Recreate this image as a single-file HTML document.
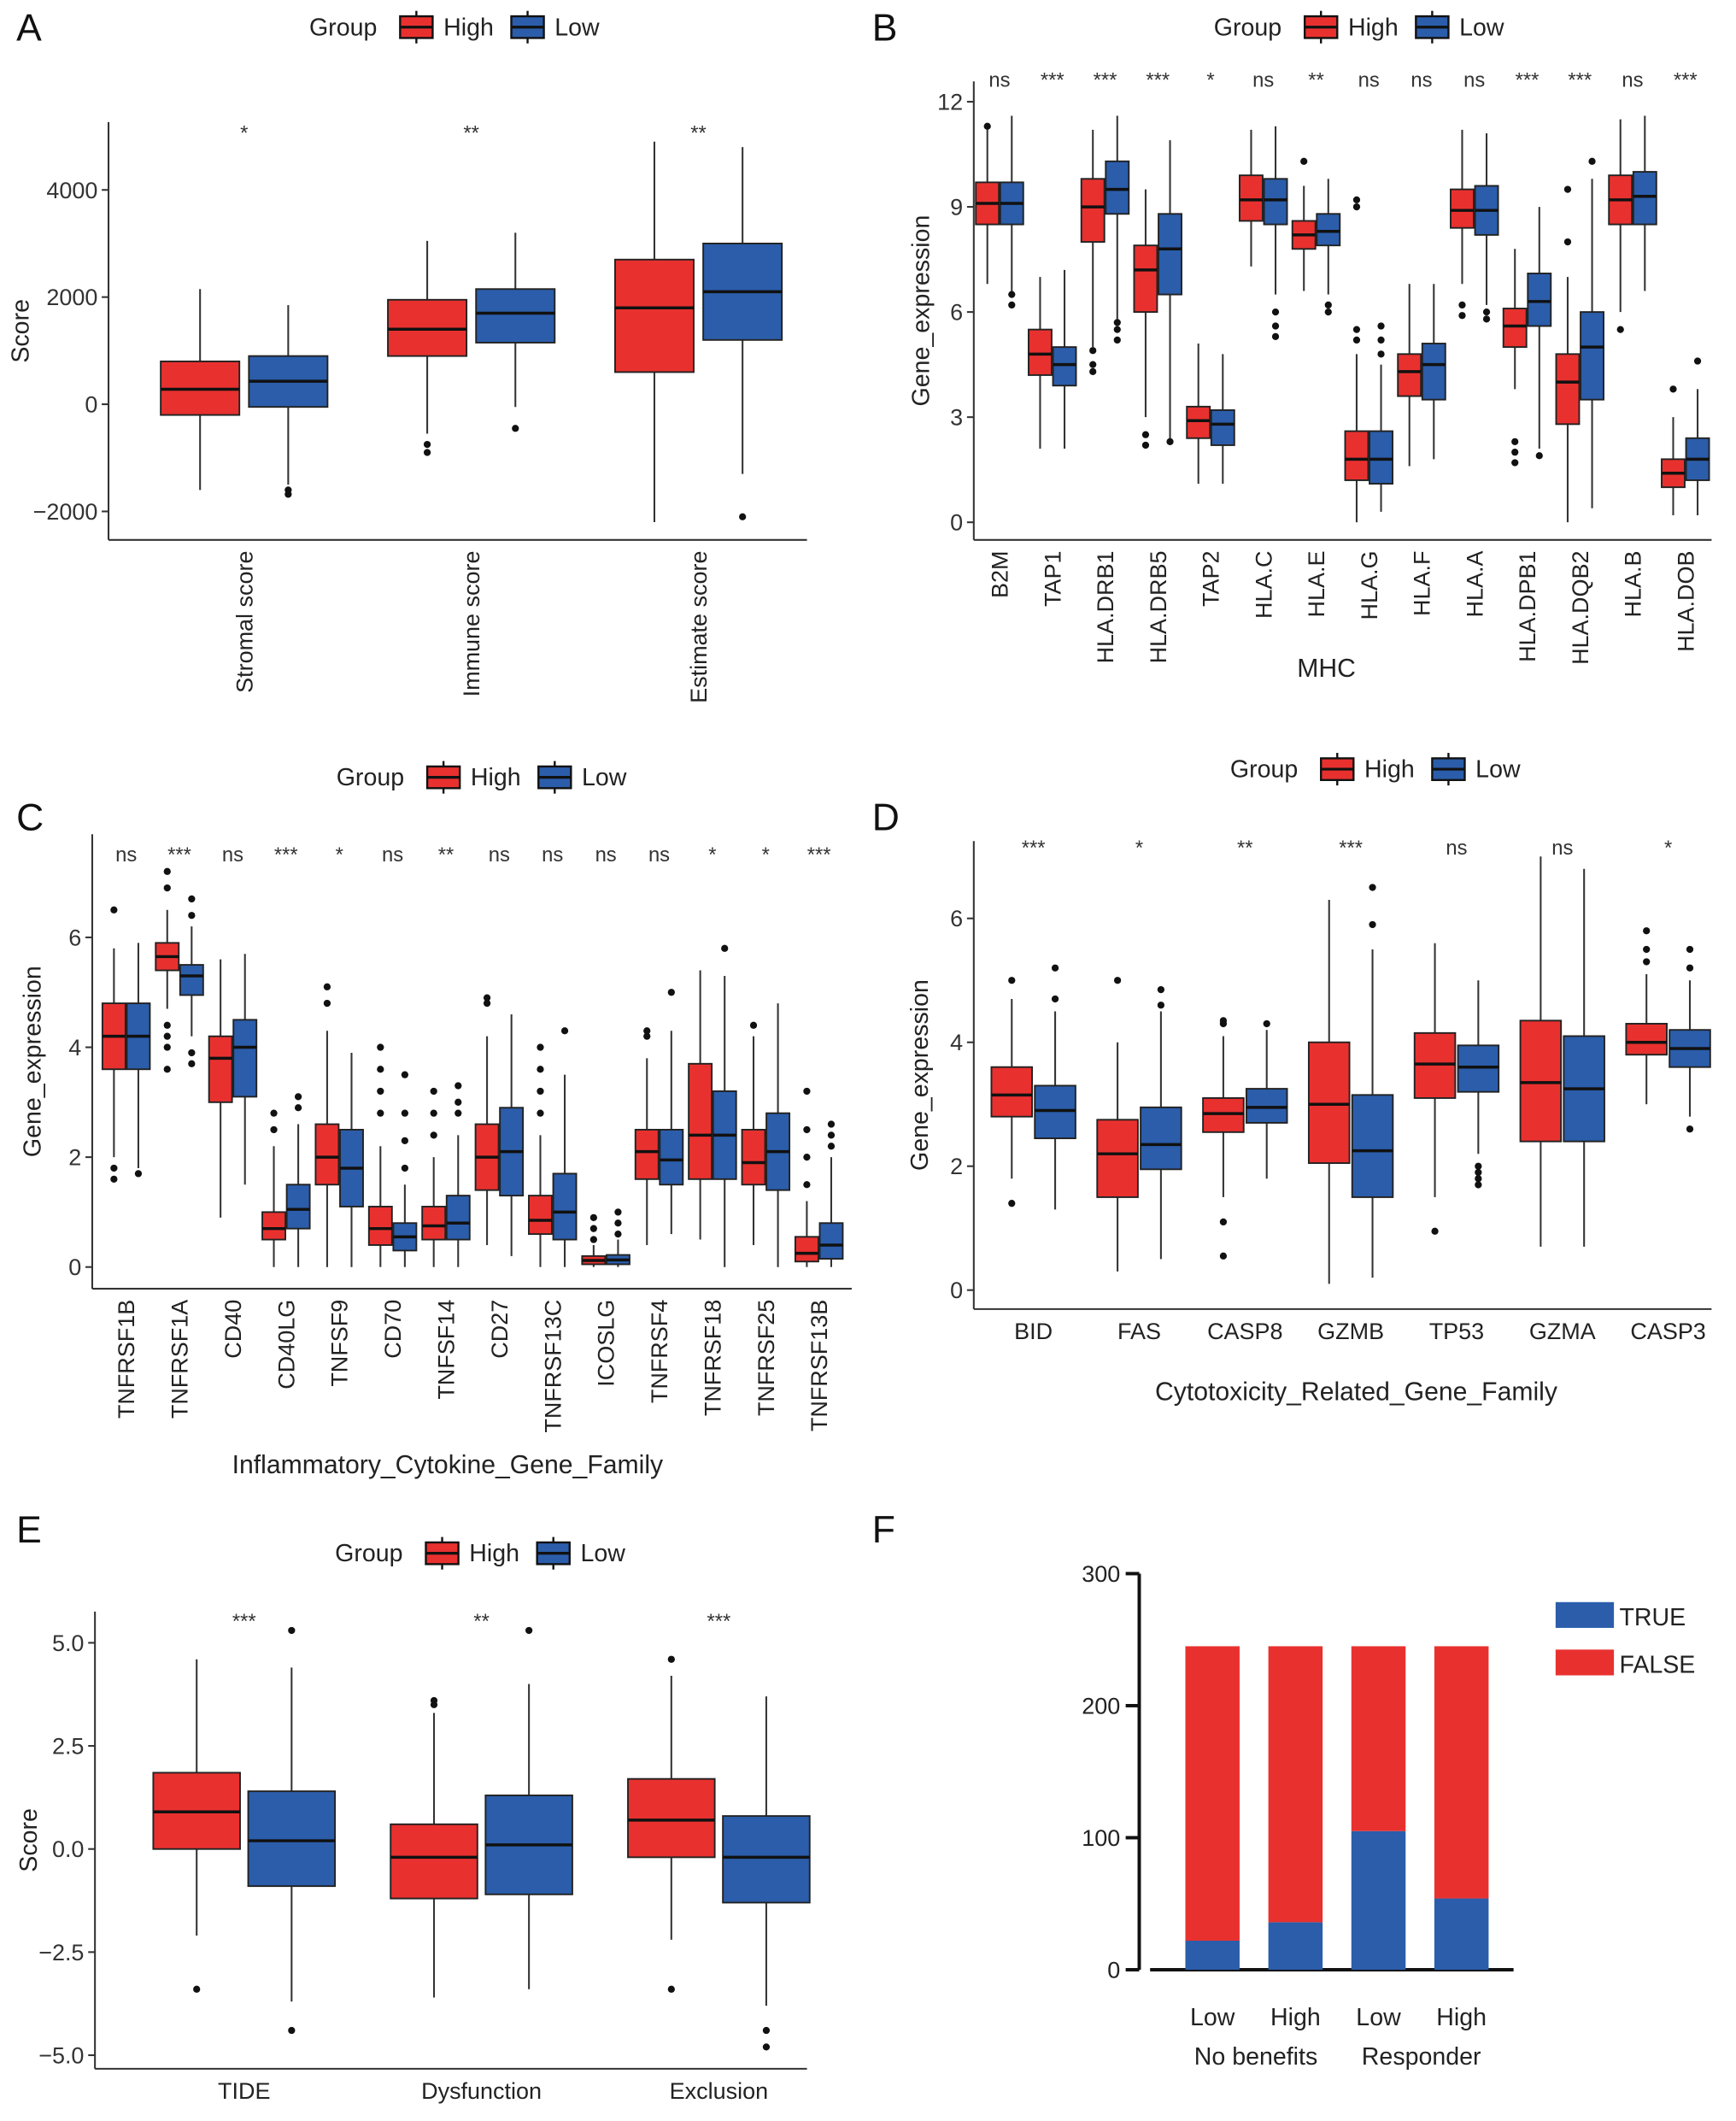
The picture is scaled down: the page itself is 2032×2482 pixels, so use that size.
<!DOCTYPE html>
<html><head><meta charset="utf-8"><style>
html,body{margin:0;padding:0;background:#fff}
svg{display:block;font-family:"Liberation Sans",Arial,sans-serif}
</style></head><body>
<svg id="fig" width="2032" height="2482" viewBox="0 0 1280 1563.5" xmlns="http://www.w3.org/2000/svg"></svg>
<script>
const RED="#E8312F",BLUE="#2B5DAA";
// Panel A
const aCats=["Stromal score","Immune score","Estimate score"];
const aSig=["*","**","**"];
const aHigh=[[-200,280,800,-1600,2150],[900,1400,1950,-550,3050],[600,1800,2700,-2200,4900]];
const aLow=[[-50,430,900,-1500,1850],[1150,1700,2150,-50,3200],[1200,2100,3000,-1300,4800]];
const aHighOut=[[],[-750,-900],[]];
const aLowOut=[[-1600,-1680],[-450],[-2100]];
const aTicks=[-2000,0,2000,4000];
const aTickLabels=["\u22122000","0","2000","4000"];
// Panel B
const bCats=["B2M","TAP1","HLA.DRB1","HLA.DRB5","TAP2","HLA.C","HLA.E","HLA.G","HLA.F","HLA.A","HLA.DPB1","HLA.DQB2","HLA.B","HLA.DOB"];
const bSig=["ns","***","***","***","*","ns","**","ns","ns","ns","***","***","ns","***"];
const bHigh=[[8.5,9.1,9.7,6.8,11.3],[4.2,4.8,5.5,2.1,7.0],[8.0,9.0,9.8,5.0,11.2],[6.0,7.2,7.9,3.0,9.5],[2.4,2.9,3.3,1.1,5.1],[8.6,9.2,9.9,7.3,11.2],[7.8,8.2,8.6,6.6,9.6],[1.2,1.8,2.6,0,4.8],[3.6,4.3,4.8,1.6,6.8],[8.4,8.9,9.5,6.8,11.2],[5.0,5.6,6.1,3.8,7.8],[2.8,4.0,4.8,0,7.0],[8.5,9.2,9.9,6.0,11.5],[1.0,1.4,1.8,0.2,3.0]];
const bLow=[[8.5,9.1,9.7,6.5,11.6],[3.9,4.5,5.0,2.1,7.2],[8.8,9.5,10.3,5.8,11.6],[6.5,7.8,8.8,2.3,10.9],[2.2,2.8,3.2,1.1,4.8],[8.5,9.2,9.8,6.5,11.3],[7.9,8.3,8.8,6.5,9.8],[1.1,1.8,2.6,0.3,4.5],[3.5,4.5,5.1,1.8,6.8],[8.2,8.9,9.6,6.2,11.1],[5.6,6.3,7.1,2.1,9.0],[3.5,5.0,6.0,0.4,9.8],[8.5,9.3,10.0,6.6,11.6],[1.2,1.8,2.4,0.2,3.8]];
const bHighOut=[[11.3],[],[4.3,4.5,4.9],[2.2,2.5],[],[],[10.3],[9.2,9.0,5.2,5.5],[],[5.9,6.2],[1.7,2.0,2.3],[8.0,9.5],[5.5],[3.8]];
const bLowOut=[[6.2,6.5],[],[5.2,5.5,5.7],[2.3],[],[5.3,5.6,6.0],[6.0,6.2],[4.8,5.2,5.6],[],[5.8,6.0],[1.9],[10.3],[],[4.6]];
const bTicks=[0,3,6,9,12];
// Panel C
const cCats=["TNFRSF1B","TNFRSF1A","CD40","CD40LG","TNFSF9","CD70","TNFSF14","CD27","TNFRSF13C","ICOSLG","TNFRSF4","TNFRSF18","TNFRSF25","TNFRSF13B"];
const cSig=["ns","***","ns","***","*","ns","**","ns","ns","ns","ns","*","*","***"];
const cHigh=[[3.6,4.2,4.8,2.0,5.8],[5.4,5.65,5.9,4.7,6.5],[3.0,3.8,4.2,0.9,5.6],[0.5,0.7,1.0,0,2.2],[1.5,2.0,2.6,0,4.3],[0.4,0.7,1.1,0,2.2],[0.5,0.75,1.1,0,2.0],[1.4,2.0,2.6,0.4,4.2],[0.6,0.85,1.3,0,2.4],[0.05,0.12,0.2,0,0.4],[1.6,2.1,2.5,0.4,3.8],[1.6,2.4,3.7,0.5,5.4],[1.5,1.9,2.5,0.4,4.2],[0.1,0.25,0.55,0,1.2]];
const cLow=[[3.6,4.2,4.8,1.8,5.9],[4.95,5.3,5.5,4.2,6.2],[3.1,4.0,4.5,1.5,5.7],[0.7,1.05,1.5,0,2.6],[1.1,1.8,2.5,0,3.9],[0.3,0.55,0.8,0,1.5],[0.5,0.8,1.3,0,2.4],[1.3,2.1,2.9,0.2,4.6],[0.5,1.0,1.7,0,3.5],[0.05,0.13,0.22,0,0.5],[1.5,1.95,2.5,0.6,4.3],[1.6,2.4,3.2,0,5.3],[1.4,2.1,2.8,0,4.8],[0.15,0.4,0.8,0,2.0]];
const cHighOut=[[1.6,1.8,6.5],[4.0,4.2,4.4,3.6,7.2,6.9],[],[2.5,2.8],[4.8,5.1],[2.8,3.2,3.6,4.0],[2.4,2.8,3.2],[4.8,4.9],[2.8,3.2,3.6,4.0],[0.5,0.7,0.9],[4.3,4.2],[],[4.4],[1.5,2.0,2.5,3.2]];
const cLowOut=[[1.7],[3.7,3.9,6.4,6.7],[],[2.9,3.1],[],[1.8,2.3,2.8,3.5],[2.8,3.0,3.3],[],[4.3],[0.6,0.8,1.0],[5.0],[5.8],[],[2.2,2.4,2.6]];
const cTicks=[0,2,4,6];
// Panel D
const dCats=["BID","FAS","CASP8","GZMB","TP53","GZMA","CASP3"];
const dSig=["***","*","**","***","ns","ns","*"];
const dHigh=[[2.8,3.15,3.6,1.8,4.7],[1.5,2.2,2.75,0.3,4.0],[2.55,2.85,3.1,1.5,4.1],[2.05,3.0,4.0,0.1,6.3],[3.1,3.65,4.15,1.5,5.6],[2.4,3.35,4.35,0.7,7.0],[3.8,4.0,4.3,3.0,5.1]];
const dLow=[[2.45,2.9,3.3,1.3,4.5],[1.95,2.35,2.95,0.5,4.5],[2.7,2.95,3.25,1.8,4.2],[1.5,2.25,3.15,0.2,5.5],[3.2,3.6,3.95,2.2,5.0],[2.4,3.25,4.1,0.7,6.8],[3.6,3.9,4.2,2.8,5.0]];
const dHighOut=[[1.4,5.0],[5.0],[0.55,1.1,4.3,4.35],[],[0.95],[],[5.3,5.5,5.8]];
const dLowOut=[[4.7,5.2],[4.6,4.85],[4.3],[5.9,6.5],[1.7,1.8,1.9,2.0],[],[2.6,5.2,5.5]];
const dTicks=[0,2,4,6];
// Panel E
const eCats=["TIDE","Dysfunction","Exclusion"];
const eSig=["***","**","***"];
const eHigh=[[0.0,0.9,1.85,-2.1,4.6],[-1.2,-0.2,0.6,-3.6,3.3],[-0.2,0.7,1.7,-2.2,4.2]];
const eLow=[[-0.9,0.2,1.4,-3.7,4.4],[-1.1,0.1,1.3,-3.4,4.0],[-1.3,-0.2,0.8,-3.8,3.7]];
const eHighOut=[[-3.4],[3.5,3.6],[4.6,-3.4]];
const eLowOut=[[5.3,-4.4],[5.3],[-4.4,-4.8]];
const eTicks=[-5,-2.5,0,2.5,5];
const eTickLabels=["\u22125.0","\u22122.5","0.0","2.5","5.0"];
// Panel F
const fCats=["Low","High","Low","High"];
const fGroups=["No benefits","Responder"];
const fTrue=[22,36,105,54];
const fFalse=[223,209,140,191];
const fTicks=[0,100,200,300];

const NS="http://www.w3.org/2000/svg";
const svg=document.getElementById('fig');
function el(tag,attrs,parent,text){const e=document.createElementNS(NS,tag);for(const k in attrs)e.setAttribute(k,attrs[k]);if(text!==undefined)e.textContent=text;(parent||svg).appendChild(e);return e;}
function lin(d0,d1,r0,r1){return v=>r0+(v-d0)/(d1-d0)*(r1-r0);}

function legend(x,y,name){
  const g=el('g',{});  
  el('text',{x:x,y:y+6,'font-size':18,fill:'#222'},g,'Group');
  [[RED,'High',x+67],[BLUE,'Low',x+149]].forEach(([c,t,bx])=>{
    const k=el('g',{},g);  
    el('line',{x1:bx+12,x2:bx+12,y1:y-12,y2:y+12,stroke:'#111','stroke-width':1.5},k);
    el('rect',{x:bx,y:y-8,width:24,height:16,fill:c,stroke:'#111','stroke-width':1.5},k);
    el('line',{x1:bx,x2:bx+24,y1:y,y2:y,stroke:'#111','stroke-width':2},k);
    el('text',{x:bx+32,y:y+6,'font-size':18,fill:'#222'},k,t);
  });
}
function letter(x,y,t){const e=el('text',{x:x,y:y,'font-size':28,fill:'#111'},svg,t);}

function boxPanel(o){
  const g=el('g',{});  
  const y=lin(o.dom[0],o.dom[1],o.yr[0],o.yr[1]);
  const ax=el('g',{},g);  
  el('line',{x1:o.x0,x2:o.x0,y1:o.top,y2:o.bot,stroke:'#333','stroke-width':1.3},ax);
  el('line',{x1:o.x0,x2:o.x1,y1:o.bot,y2:o.bot,stroke:'#333','stroke-width':1.3},g);
  o.ticks.forEach((t,i)=>{
    el('line',{x1:o.x0-5,x2:o.x0,y1:y(t),y2:y(t),stroke:'#333','stroke-width':1.3},ax);
    el('text',{x:o.x0-8,y:y(t)+6,'font-size':17,fill:'#333','text-anchor':'end'},ax,o.tickLabels?o.tickLabels[i]:String(t));
  });
  const yt=el('text',{transform:`translate(${o.ytx},${(o.top+o.bot)/2}) rotate(-90)`,'font-size':18,fill:'#222','text-anchor':'middle'},g,o.ytitle);
   
  o.cats.forEach((c,i)=>{
    const cx=o.cx(i);
    const cg=el('g',{},g);  
    [[o.high[i],o.highOut[i],RED,-1],[o.low[i],o.lowOut[i],BLUE,1]].forEach(([b,outs,col,s])=>{
      const bx=cx+s*o.off;
      el('line',{x1:bx,x2:bx,y1:y(b[3]),y2:y(b[0]),stroke:'#333','stroke-width':1.3},cg);
      el('line',{x1:bx,x2:bx,y1:y(b[2]),y2:y(b[4]),stroke:'#333','stroke-width':1.3},cg);
      const r=el('rect',{x:bx-o.bw/2,y:y(b[2]),width:o.bw,height:y(b[0])-y(b[2]),fill:col,stroke:'#222','stroke-width':1.2},cg);
       
      el('line',{x1:bx-o.bw/2,x2:bx+o.bw/2,y1:y(b[1]),y2:y(b[1]),stroke:'#111','stroke-width':2.2},cg);
      outs.forEach(v=>el('circle',{cx:bx,cy:y(v),r:2.6,fill:'#111'},cg));
    });
    el('text',{x:cx,y:o.sigY,'font-size':o.sigFs||15,fill:'#333','text-anchor':'middle'},cg,o.sig[i]);
    if(o.rotLabels){
      el('text',{transform:`translate(${cx+6},${o.bot+8}) rotate(-90)`,'font-size':17,fill:'#222','text-anchor':'end'},cg,c);
    } else {
      el('text',{x:cx,y:o.bot+22,'font-size':17,fill:'#222','text-anchor':'middle'},cg,c);
    }
  });
  if(o.xtitle){const t=el('text',{x:o.xtx,y:o.xty,'font-size':19,fill:'#222','text-anchor':'middle'},g,o.xtitle);}
}

letter(12,30,'A');letter(643,30,'B');letter(12,612,'C');letter(643,612,'D');letter(12,1137,'E');letter(643,1137,'F');
legend(228,20,'legend-a');legend(895,20,'legend-b');legend(248,573,'legend-c');legend(907,567,'legend-d');legend(247,1145,'legend-e');

boxPanel({name:'panel-a',cats:aCats,sig:aSig,high:aHigh,low:aLow,highOut:aHighOut,lowOut:aLowOut,ticks:aTicks,tickLabels:aTickLabels,
  dom:[0,4000],yr:[298,140],x0:80,x1:595,top:90,bot:398,cx:i=>180+i*167.5,off:32.5,bw:58,sigY:103,ytx:21,ytitle:'Score',rotLabels:true});
boxPanel({name:'panel-b',cats:bCats,sig:bSig,high:bHigh,low:bLow,highOut:bHighOut,lowOut:bLowOut,ticks:bTicks,
  dom:[0,12],yr:[385,75],x0:718,x1:1262,top:60,bot:398,cx:i=>737+i*38.9,off:9,bw:17,sigY:64,ytx:685,ytitle:'Gene_expression',rotLabels:true,xtitle:'MHC',xtx:978,xty:499});
boxPanel({name:'panel-c',cats:cCats,sig:cSig,high:cHigh,low:cLow,highOut:cHighOut,lowOut:cLowOut,ticks:cTicks,
  dom:[0,6],yr:[934,691],x0:68,x1:628,top:615,bot:950,cx:i=>93+i*39.3,off:9,bw:17,sigY:635,ytx:30,ytitle:'Gene_expression',rotLabels:true,xtitle:'Inflammatory_Cytokine_Gene_Family',xtx:330,xty:1086});
boxPanel({name:'panel-d',cats:dCats,sig:dSig,high:dHigh,low:dLow,highOut:dHighOut,lowOut:dLowOut,ticks:dTicks,
  dom:[0,6],yr:[951,677],x0:718,x1:1262,top:620,bot:965,cx:i=>762+i*78,off:16,bw:30,sigY:630,ytx:684,ytitle:'Gene_expression',rotLabels:false,xtitle:'Cytotoxicity_Related_Gene_Family',xtx:1000,xty:1032});
boxPanel({name:'panel-e',cats:eCats,sig:eSig,high:eHigh,low:eLow,highOut:eHighOut,lowOut:eLowOut,ticks:eTicks,tickLabels:eTickLabels,
  dom:[0,5],yr:[1363,1211],x0:70,x1:595,top:1188,bot:1525,cx:i=>180+i*175,off:35,bw:64,sigY:1200,ytx:27,ytitle:'Score',rotLabels:false});

// Panel F
(function(){
  const g=el('g',{});  
  const y=lin(0,300,1452,1160);
  el('line',{x1:840,x2:840,y1:y(300),y2:y(0),stroke:'#111','stroke-width':2.5},g);
  el('line',{x1:848,x2:1116,y1:y(0),y2:y(0),stroke:'#111','stroke-width':2.5},g);
  fTicks.forEach(t=>{el('line',{x1:830,x2:840,y1:y(t),y2:y(t),stroke:'#111','stroke-width':2.5},g);
    el('text',{x:826,y:y(t)+6,'font-size':17,fill:'#222','text-anchor':'end'},g,String(t));});
  fCats.forEach((c,i)=>{
    const cx=894+i*61.2,w=40;
    const bg=el('g',{},g);  
    el('rect',{x:cx-w/2,y:y(fTrue[i]),width:w,height:y(0)-y(fTrue[i]),fill:BLUE},bg);
    el('rect',{x:cx-w/2,y:y(fTrue[i]+fFalse[i]),width:w,height:y(fTrue[i])-y(fTrue[i]+fFalse[i]),fill:RED},bg);
    el('text',{x:cx,y:1493,'font-size':18,fill:'#222','text-anchor':'middle'},g,c);
  });
  fGroups.forEach((t,i)=>el('text',{x:926+i*122,y:1522,'font-size':18,fill:'#222','text-anchor':'middle'},g,t));
  const lg=el('g',{},g);  
  el('rect',{x:1147,y:1181,width:43,height:19,fill:BLUE},lg);
  el('text',{x:1194,y:1198,'font-size':18,fill:'#222'},lg,'TRUE');
  el('rect',{x:1147,y:1216,width:43,height:19,fill:RED},lg);
  el('text',{x:1194,y:1233,'font-size':18,fill:'#222'},lg,'FALSE');
})();
</script>
</body></html>
